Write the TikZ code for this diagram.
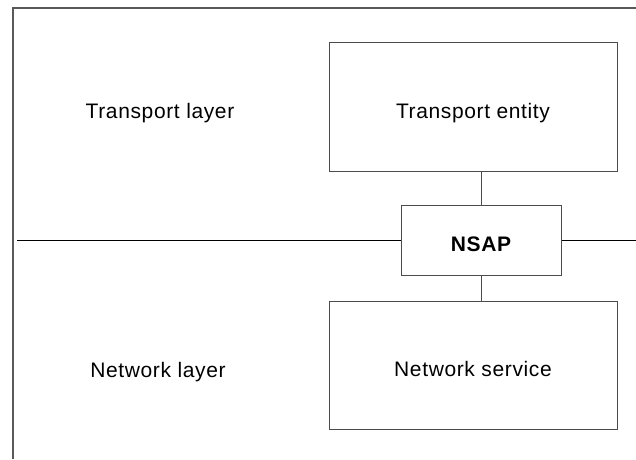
\documentclass[tikz,border=0pt]{standalone}
\usepackage{fontspec}
\usepackage{tikz}
\setmainfont{Liberation Sans}[LetterSpace=3]

\begin{document}
\begin{tikzpicture}[x=1pt,y=1pt,
  layer/.style={font=\fontsize{21}{24}\selectfont},
  box/.style={draw=black!70, line width=1pt, inner sep=0pt,
    text height=26pt, text depth=3pt, font=\fontsize{21}{24}\selectfont},
  wire/.style={draw=black!70, line width=1pt},
  frame/.style={draw=black!65, line width=1.3pt}]
\useasboundingbox (0,0) rectangle (636,459);
% outer frame
\coordinate (corner) at (13,451);
\coordinate (topend) at (636,451);
\coordinate (bottomend) at (13,0);
\draw[frame] (topend) -- (corner) -- (bottomend);
% boxes
\node[box, minimum width=288, minimum height=128] (entity) at (473,352) {Transport entity};
\node[box, minimum width=160, minimum height=70, font=\fontsize{21}{24}\selectfont\bfseries] (nsap) at (481,219) {NSAP};
\node[box, minimum width=288, minimum height=128] (service) at (473,94) {Network service};
% layer names
\node[layer, anchor=base] (transport) at (160,341) {Transport layer};
\node[layer, anchor=base] (network) at (158,82) {Network layer};
% boundary between the layers
\coordinate (west) at (17,219);
\coordinate (east) at (636,219);
\draw[line width=1pt] (west) -- (nsap.west);
\draw[line width=1pt] (nsap.east) -- (east);
\draw[wire] (nsap.north) -- (nsap.north |- entity.south);
\draw[wire] (nsap.south) -- (nsap.south |- service.north);
\end{tikzpicture}
\end{document}
